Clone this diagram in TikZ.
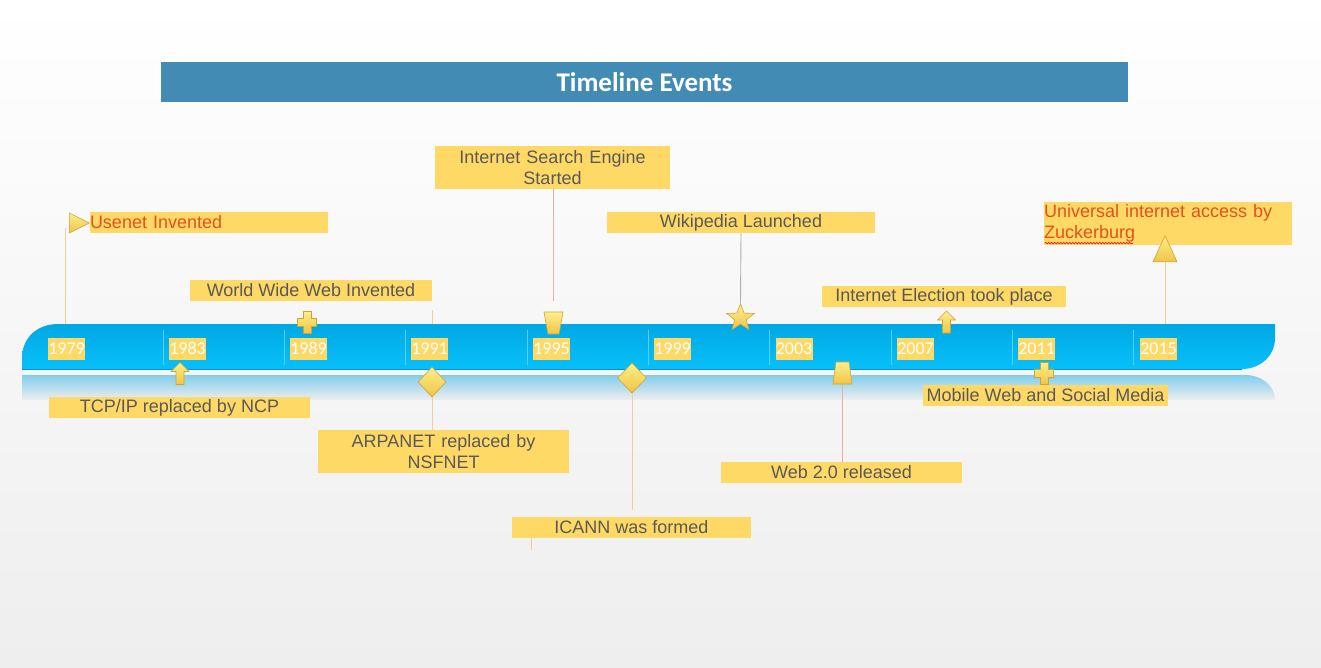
\documentclass[tikz,border=0pt]{standalone}
\usepackage{fontspec}
\setmainfont{Liberation Sans}
\newfontfamily\carlito[Numbers=Lining]{Carlito}
\usepackage{xcolor}
\usetikzlibrary{shapes.geometric, decorations.pathmorphing}

\definecolor{boxyellow}{RGB}{255,217,102}
\definecolor{textgray}{RGB}{89,89,89}
\definecolor{orangetxt}{RGB}{229,80,30}
\definecolor{titleblue}{RGB}{66,139,181}
\definecolor{bandtop}{RGB}{0,168,228}
\definecolor{bandblue}{RGB}{8,192,250}
\definecolor{banddark}{RGB}{0,150,210}
\definecolor{reflblue}{RGB}{130,205,236}
\definecolor{bggray}{RGB}{238,238,238}
\definecolor{markhi}{RGB}{255,238,140}
\definecolor{marklo}{RGB}{240,196,70}
\definecolor{markedge}{RGB}{205,165,55}
\definecolor{linetan}{RGB}{244,204,150}
\definecolor{linepink}{RGB}{232,176,160}
\definecolor{linegray}{RGB}{175,175,175}

\tikzset{
  evlabel/.style={fill=boxyellow, text=textgray, font=\fontsize{18}{21}\selectfont,
    inner sep=0pt, minimum height=21pt, align=center},
  yearlabel/.style={fill=boxyellow, text=white, font=\carlito\fontsize{18}{20}\selectfont,
    inner sep=0pt, text height=11.4pt, text depth=0pt, minimum width=37pt, minimum height=22pt},
  marker/.style={top color=markhi, bottom color=marklo, draw=markedge, line width=0.6pt, inner sep=0pt},
  tanline/.style={draw=linetan, line width=0.9pt},
  pinkline/.style={draw=linepink, line width=0.9pt},
  grayline/.style={draw=linegray, line width=0.9pt},
  tickline/.style={draw=bandblue!70!white, line width=0.6pt}
}

\begin{document}
\begin{tikzpicture}[x=1pt, y=-1pt]
  % Page and background
  \useasboundingbox (0,0) rectangle (1321,668);
  \shade[top color=white, bottom color=bggray] (0,0) rectangle (1321,668);

  % Title bar
  \node[fill=titleblue, text=white, font=\carlito\bfseries\fontsize{27}{30}\selectfont,
        minimum width=967pt, minimum height=40pt, inner sep=0pt] (title) at (644.5,82) {Timeline Events};

  % Reflection under the band
  \shade[top color=reflblue, bottom color=bggray] (22,375) -- (1245,375)
        .. controls (1262,375) and (1275,386) .. (1275,400) -- (22,400) -- cycle;

  % Timeline band
  \shade[top color=bandtop, bottom color=bandblue] (22,369) -- (22,358)
        .. controls (22,338) and (37,324) .. (58,324) -- (1275,324) -- (1275,338)
        .. controls (1275,356) and (1260,369) .. (1242,369) -- cycle;
  \draw[banddark, line width=1pt] (22,369) -- (1242,369);

  % Separators between the years
  \foreach \k in {0,...,8}
    \draw[tickline] ({163+121.3*\k},330) -- ({163+121.3*\k},365);

  % Year labels
  \foreach \yr/\x in {1979/66.5, 1983/187.5, 1989/308.5, 1991/429.5, 1995/551.5,
                      1999/672.5, 2003/794, 2007/915.5, 2011/1036.5, 2015/1158.5}
    \node[yearlabel] (y\yr) at (\x,349) {\yr};

  % Event labels
  \node[evlabel, text=orangetxt, text width=238pt, align=left] (e79) at (209,222.5) {Usenet Invented};
  \node[evlabel, minimum width=242pt] (e89) at (311,290.5) {World Wide Web Invented};
  \node[evlabel, minimum width=261pt] (e83) at (179.5,407.5) {TCP/IP replaced by NCP};
  \node[evlabel, text width=251pt, minimum height=43pt] (e91) at (443.5,451.5) {ARPANET replaced by\\NSFNET};
  \node[evlabel, text width=235pt, minimum height=43pt] (e95) at (552.5,167.5) {Internet Search Engine\\Started};
  \node[evlabel, minimum width=239pt] (e97) at (631.5,527.5) {ICANN was formed};
  \node[evlabel, minimum width=268pt] (e01) at (741,222.5) {Wikipedia Launched};
  \node[evlabel, minimum width=241pt] (e05) at (841.5,472.5) {Web 2.0 released};
  \node[evlabel, minimum width=244pt] (e08) at (944,296.5) {Internet Election took place};
  \node[evlabel, minimum width=245pt] (e11) at (1045.5,395.5) {Mobile Web and Social Media};
  \node[evlabel, text=orangetxt, text width=248pt, align=left, minimum height=43pt] (e15) at (1168,223.5)
        {Universal internet access by\\Zuckerburg};
  \draw[red, line width=0.6pt, decorate, decoration={snake, amplitude=0.8pt, segment length=3pt}]
        (e15.south west) ++(1,-2) -- ++(88,0);

  % Connectors
  \coordinate (t79) at (65,228);
  \coordinate (b79) at (65,324);
  \coordinate (w89) at (432,310);
  \coordinate (b89) at (432,324);
  \coordinate (s95) at (553,301);
  \coordinate (m05) at (842.5,384);
  \coordinate (s97) at (531,550);
  \coordinate (b15) at (1165,324);
  \draw[tanline] (t79) -- (b79);
  \draw[tanline] (w89) -- (b89);
  \draw[pinkline] (e95.south -| s95) -- (s95);
  \draw[pinkline] (m05) -- (m05 |- e05.north);
  \draw[tanline] (e97.south -| s97) -- (s97);

  % Markers
  \node[marker, isosceles triangle, isosceles triangle stretches, minimum width=20pt, minimum height=20pt,
        anchor=lower side] (m79) at (69,223) {};
  \node[marker, diamond, minimum width=28pt, minimum height=30pt] (m91) at (432,382) {};
  \node[marker, diamond, minimum width=29pt, minimum height=30pt] (m97) at (632,378) {};
  \node[marker, star, star points=5, star point ratio=2.4, minimum size=29pt] (m01) at (740.5,318) {};
  \node[marker, isosceles triangle, isosceles triangle stretches, shape border rotate=90,
        minimum width=24pt, minimum height=26pt, anchor=lower side] (m15) at (1165,262) {};
  % cups
  \path[marker] (544,312) -- (563,312) -- (559,334) -- (548,334) -- cycle;
  \path[marker] (836,362) -- (849,362) -- (852,384) -- (833,384) -- cycle;
  % crosses and arrows
  \foreach \x/\y in {307/322, 1044/373.5}
    \path[marker] (\x,\y) ++(-4,-11) -- ++(8,0) -- ++(0,7) -- ++(5.5,0) -- ++(0,8) -- ++(-5.5,0)
          -- ++(0,7) -- ++(-8,0) -- ++(0,-7) -- ++(-5.5,0) -- ++(0,-8) -- ++(5.5,0) -- cycle;
  \foreach \x/\y in {180/373.5, 946.5/322}
    \path[marker] (\x,\y) ++(0,-11) -- ++(9,9) -- ++(-5,0) -- ++(0,13) -- ++(-8,0) -- ++(0,-13)
          -- ++(-5,0) -- cycle;

  \draw[tanline] (m91.south) -- (m91.south |- e91.north);
  \draw[tanline, shorten >=7pt] (m97.south) -- (m97.south |- e97.north);
  \draw[grayline] (e01.south) -- (m01.north);
  \draw[tanline] (m15.lower side) -- (b15);
\end{tikzpicture}
\end{document}
